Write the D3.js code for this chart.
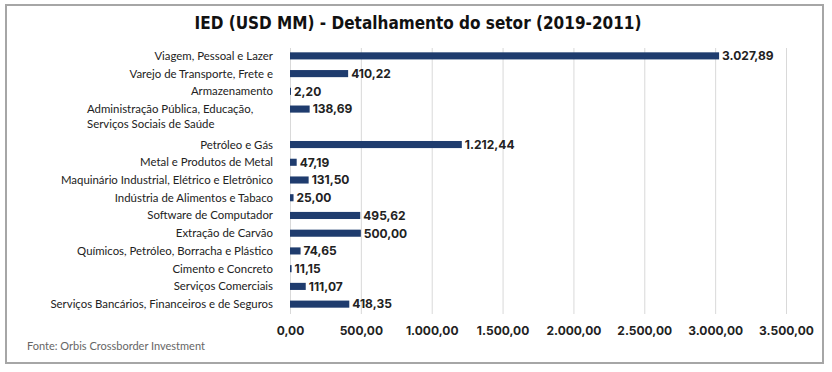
<!DOCTYPE html>
<html>
<head>
<meta charset="utf-8">
<script src="https://cdn.jsdelivr.net/npm/d3@7"></script>
<style>
  body { margin: 0; background: #fff; }
  svg { display: block; }
</style>
</head>
<body>
<script>
// slot labels as they sit next to the bars (one slot is left empty)
const labels = [
  'Viagem, Pessoal e Lazer',
  'Varejo de Transporte, Frete e',
  'Armazenamento',
  'Administração Pública, Educação,',
  'Serviços Sociais de Saúde',
  'Petróleo e Gás',
  'Metal e Produtos de Metal',
  'Maquinário Industrial, Elétrico e Eletrônico',
  'Indústria de Alimentos e Tabaco',
  'Software de Computador',
  'Extração de Carvão',
  'Químicos, Petróleo, Borracha e Plástico',
  'Cimento e Concreto',
  'Serviços Comerciais',
  'Serviços Bancários, Financeiros e de Seguros'
];
const values = [3027.89, 410.22, 2.20, 138.69, null, 1212.44, 47.19, 131.50, 25.00, 495.62, 500.00, 74.65, 11.15, 111.07, 418.35];
const ticks = [0, 500, 1000, 1500, 2000, 2500, 3000, 3500];

const width = 832, height = 372;
const margin = { top: 47, right: 46, bottom: 58, left: 290 };

const br = d3.formatLocale({ decimal: ',', thousands: '.', grouping: [3], currency: ['R$', ''] });
const fmt = br.format(',.2f');

const svg = d3.select('body').append('svg')
  .attr('width', width)
  .attr('height', height);

// outer frame
svg.append('rect')
  .attr('x', 6).attr('y', 5)
  .attr('width', 817).attr('height', 358)
  .attr('fill', '#fff')
  .attr('stroke', '#a6a6a6')
  .attr('stroke-width', 2);

svg.append('text')
  .attr('x', 418).attr('y', 29)
  .attr('text-anchor', 'middle')
  .style('font-family', '"DejaVu Sans"')
  .style('font-stretch', 'condensed')
  .style('font-weight', 'bold')
  .style('font-size', '17px')
  .attr('fill', '#111')
  .text('IED (USD MM) - Detalhamento do setor (2019-2011)');

const x = d3.scaleLinear()
  .domain([0, 3500])
  .range([margin.left, 786]);

const y = d3.scaleBand()
  .domain(d3.range(labels.length))
  .range([margin.top, height - margin.bottom - 1])
  .paddingInner(0.6)
  .paddingOuter(0.3);

// gridlines + tick labels
const axis = svg.append('g')
  .attr('transform', `translate(0,314)`)
  .call(d3.axisBottom(x).tickValues(ticks).tickFormat(fmt).tickSize(-266).tickPadding(12));
axis.select('.domain').remove();
axis.selectAll('.tick line').attr('stroke', '#d9d9d9');
axis.selectAll('.tick text')
  .style('font-family', 'Inter')
  .style('font-weight', 'bold')
  .style('font-size', '12px')
  .attr('fill', '#222');

const rows = labels.map((l, i) => ({ label: l, value: values[i], i }));

// bars
svg.append('g').selectAll('rect')
  .data(rows.filter(d => d.value != null))
  .join('rect')
  .attr('x', x(0))
  .attr('y', d => y(d.i))
  .attr('width', d => Math.max(1, x(d.value) - x(0)))
  .attr('height', y.bandwidth())
  .attr('fill', '#1f3c6e');

// value labels
svg.append('g').selectAll('text')
  .data(rows.filter(d => d.value != null))
  .join('text')
  .attr('x', d => Math.max(x(d.value), x(0) + 1) + 3)
  .attr('y', d => y(d.i) + y.bandwidth() / 2)
  .attr('dy', '0.36em')
  .style('font-family', 'Inter')
  .style('font-weight', 'bold')
  .style('font-size', '12px')
  .attr('fill', '#222')
  .text(d => fmt(d.value));

// category labels; the two-line admin label is left aligned
svg.append('g').selectAll('text')
  .data(rows)
  .join('text')
  .attr('x', d => (d.i === 3 || d.i === 4) ? 87 : 273)
  .attr('y', d => y(d.i) + y.bandwidth() / 2 + (d.i === 4 ? -3 : 0))
  .attr('dy', '0.35em')
  .attr('text-anchor', d => (d.i === 3 || d.i === 4) ? 'start' : 'end')
  .style('font-family', 'Lato')
  .style('font-size', '11.4px')
  .attr('fill', '#222')
  .text(d => d.label);

svg.append('text')
  .attr('x', 27).attr('y', 350)
  .style('font-family', 'Lato')
  .style('font-size', '11px')
  .attr('fill', '#666')
  .text('Fonte: Orbis Crossborder Investment');
</script>
</body>
</html>
